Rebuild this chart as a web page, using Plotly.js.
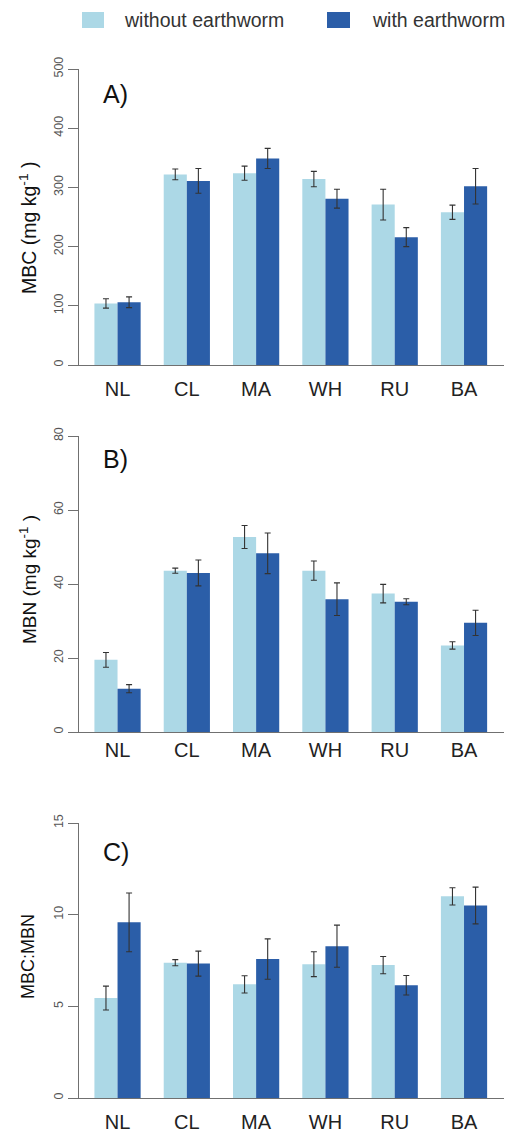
<!DOCTYPE html>
<html>
<head>
<meta charset="utf-8">
<script src="https://cdn.plot.ly/plotly-3.0.1.min.js"></script>
<style>
  html, body { margin: 0; padding: 0; background: #fff; }
  #chart { width: 513px; height: 1135px; }
</style>
</head>
<body>
<div id="chart"></div>
<script>
// Soil sites
const categories = ['NL', 'CL', 'MA', 'WH', 'RU', 'BA'];

// A) microbial biomass carbon, mg kg-1 (mean and standard error)
const mbcWithout   = [104, 322, 324, 314, 271, 258];
const mbcWithoutSe = [8, 9, 12, 13, 26, 12];
const mbcWith      = [106, 311, 349, 281, 216, 302];
const mbcWithSe    = [9, 21, 17, 16, 16, 30];

// B) microbial biomass nitrogen, mg kg-1
const mbnWithout   = [19.5, 43.6, 52.7, 43.6, 37.4, 23.4];
const mbnWithoutSe = [2.0, 0.7, 3.1, 2.6, 2.5, 1.0];
const mbnWith      = [11.7, 43.0, 48.3, 35.9, 35.2, 29.5];
const mbnWithSe    = [1.1, 3.5, 5.5, 4.4, 0.8, 3.4];

// C) MBC:MBN ratio
const ratioWithout   = [5.45, 7.38, 6.2, 7.3, 7.25, 11.0];
const ratioWithoutSe = [0.65, 0.17, 0.47, 0.68, 0.47, 0.47];
const ratioWith      = [9.58, 7.33, 7.58, 8.28, 6.15, 10.5];
const ratioWithSe    = [1.6, 0.68, 1.1, 1.15, 0.53, 1.0];

const seriesNames = ['without earthworm', 'with earthworm'];
const lightBlue = '#acd8e6';
const darkBlue = '#2b5ea8';
const axisGrey = '#707070';
const FONT = 'Liberation Sans, Arial, Helvetica, sans-serif';

const W = 513, H = 1135;
// pixel helpers for layout placement
const px = x => x / W;
const py = y => 1 - y / H;

function barTrace(name, y, err, color, ax, show) {
  return {
    type: 'bar',
    name: name,
    x: categories,
    y: y,
    xaxis: 'x' + ax,
    yaxis: 'y' + ax,
    marker: { color: color, line: { width: 0 } },
    error_y: { type: 'data', array: err, visible: true, color: '#333', thickness: 1.1, width: 3 },
    showlegend: show,
    hoverinfo: 'x+y'
  };
}

const data = [
  barTrace(seriesNames[0], mbcWithout, mbcWithoutSe, lightBlue, '', true),
  barTrace(seriesNames[1], mbcWith, mbcWithSe, darkBlue, '', true),
  barTrace(seriesNames[0], mbnWithout, mbnWithoutSe, lightBlue, '2', false),
  barTrace(seriesNames[1], mbnWith, mbnWithSe, darkBlue, '2', false),
  barTrace(seriesNames[0], ratioWithout, ratioWithoutSe, lightBlue, '3', false),
  barTrace(seriesNames[1], ratioWith, ratioWithSe, darkBlue, '3', false)
];

const xDomain = [px(79), px(504)];
function xAxis(anchor, standoff) {
  return {
    domain: xDomain,
    anchor: anchor,
    type: 'category',
    range: [-0.556, 5.577],
    showline: true,
    linecolor: axisGrey,
    linewidth: 1,
    ticks: '',
    showgrid: false,
    zeroline: false,
    tickfont: { family: FONT, size: 20, color: '#222' },
    ticklabelstandoff: standoff,
    fixedrange: true
  };
}
function yAxis(anchor, top, bottom, max, step) {
  return {
    domain: [py(bottom), py(top)],
    anchor: anchor,
    range: [0, max],
    tick0: 0,
    dtick: step,
    showline: true,
    linecolor: axisGrey,
    linewidth: 1,
    ticks: 'outside',
    ticklen: 10,
    tickwidth: 1,
    tickcolor: axisGrey,
    tickangle: -90,
    tickfont: { family: FONT, size: 12.5, color: '#555' },
    showgrid: false,
    zeroline: false,
    fixedrange: true
  };
}

function panelLabel(text, y) {
  return {
    xref: 'paper', yref: 'paper', x: px(101), y: py(y),
    xanchor: 'left', yanchor: 'middle', showarrow: false,
    text: text, font: { family: FONT, size: 25, color: '#111' }
  };
}
function yTitle(text, y, size) {
  return {
    xref: 'paper', yref: 'paper', x: px(28), y: py(y),
    xanchor: 'center', yanchor: 'middle', showarrow: false, textangle: -90,
    text: text, font: { family: FONT, size: size, color: '#111' }
  };
}
function legendText(text, x) {
  return {
    xref: 'paper', yref: 'paper', x: px(x), y: py(20),
    xanchor: 'left', yanchor: 'middle', showarrow: false,
    text: text, font: { family: FONT, size: 19.5, color: '#333' }
  };
}

const layout = {
  width: W,
  height: H,
  margin: { l: 0, r: 0, t: 0, b: 0 },
  paper_bgcolor: '#fff',
  plot_bgcolor: '#fff',
  showlegend: false,
  barmode: 'group',
  bargap: 0.333,
  bargroupgap: 0,
  font: { family: FONT },
  xaxis: xAxis('y', 6),
  yaxis: yAxis('x', 69, 365, 500, 100),
  xaxis2: xAxis('y2', 0),
  yaxis2: yAxis('x2', 436, 732, 80, 20),
  xaxis3: xAxis('y3', 6),
  yaxis3: yAxis('x3', 823, 1098, 15, 5),
  shapes: [
    { type: 'rect', xref: 'paper', yref: 'paper', x0: px(82), x1: px(104), y0: py(28), y1: py(12),
      fillcolor: lightBlue, line: { width: 0 } },
    { type: 'rect', xref: 'paper', yref: 'paper', x0: px(327), x1: px(350), y0: py(28), y1: py(12),
      fillcolor: darkBlue, line: { width: 0 } }
  ],
  annotations: [
    legendText(seriesNames[0], 122),
    legendText(seriesNames[1], 370),
    panelLabel('A)', 94),
    panelLabel('B)', 459),
    panelLabel('C)', 852),
    yTitle('MBC (mg kg<sup>-1</sup> )', 228, 19.5),
    yTitle('MBN (mg kg<sup>-1</sup> )', 580, 19),
    yTitle('MBC:MBN', 957, 18)
  ]
};

Plotly.newPlot('chart', data, layout, { displayModeBar: false, staticPlot: true });
</script>
</body>
</html>
